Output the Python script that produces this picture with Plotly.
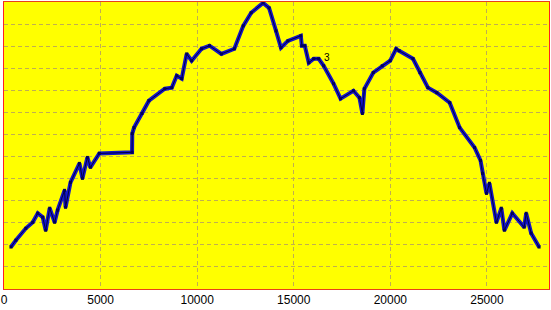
import plotly.graph_objects as go

x_vals = [360, 617, 1131, 1490, 1747, 2004, 2158, 2364, 2621, 2775, 3135, 3186, 3443, 3906, 4060,
          4317, 4471, 4933, 6629, 6640, 6732, 7143, 7503, 8325, 8685, 8942, 9199, 9456, 9713, 10227,
          10638, 11254, 11923, 12385, 12796, 13413, 13721, 14081, 14337, 14697, 15366, 15417, 15571,
          15776, 16032, 16290, 16547, 17061, 17421, 18089, 18398, 18552, 18655, 19117, 19578, 19991,
          20299, 20454, 21172, 21532, 21943, 22405, 23073, 23588, 24358, 24667, 24770, 24975, 25130,
          25489, 25746, 25901, 26312, 26928, 27030, 27288, 27699]
y_vals = [1.90, 2.21, 2.75, 3.02, 3.43, 3.25, 2.66, 3.66, 3.02, 3.57, 4.47, 3.70, 4.83, 5.69, 5.01,
          5.96, 5.51, 6.14, 6.19, 7.04, 7.31, 7.95, 8.53, 9.07, 9.12, 9.66, 9.53, 10.65, 10.34, 10.88,
          11.02, 10.65, 10.88, 11.92, 12.51, 12.96, 12.73, 11.69, 10.93, 11.24, 11.47, 11.02, 11.02,
          10.25, 10.43, 10.43, 10.11, 9.30, 8.62, 8.98, 8.67, 7.95, 9.07, 9.80, 10.11, 10.34,
          10.88, 10.79, 10.43, 9.80, 9.12, 8.89, 8.44, 7.31, 6.41, 5.82, 5.24, 4.33, 4.79,
          3.02, 3.66, 2.66, 3.43, 2.80, 3.43, 2.53, 1.90]
x_ticks = [0, 5000, 10000, 15000, 20000, 25000]
label_text = "3"
label_x = 16700
label_y = 10.47

fig = go.Figure()
fig.add_trace(go.Scatter(x=x_vals, y=y_vals, mode="lines",
                         line=dict(color="#1414C8", width=4), hoverinfo="skip"))
fig.add_trace(go.Scatter(x=x_vals, y=y_vals, mode="lines+markers",
                         line=dict(color="#000040", width=1),
                         marker=dict(color="#00005A", size=3, symbol="square")))
fig.add_annotation(x=label_x, y=label_y, text=label_text, showarrow=False,
                   font=dict(family="Arial", size=10, color="#000000"))

fig.update_layout(
    width=551, height=310,
    margin=dict(l=1, r=1, t=1, b=21),
    paper_bgcolor="#FFFFFF",
    plot_bgcolor="#FFFF00",
    showlegend=False,
    font=dict(family="Arial", size=12, color="#000000"),
)
fig.update_xaxes(range=[0, 28212], tickvals=x_ticks, ticktext=[str(v) for v in x_ticks],
                 showgrid=True, gridcolor="#C0AE50", griddash="4px,3px", gridwidth=1,
                 showline=True, linecolor="#E8401A", linewidth=1, mirror=True,
                 zeroline=False, ticks="", tickfont=dict(size=12),
                 ticklabeloverflow="allow")
fig.update_yaxes(range=[0, 13], dtick=1, showticklabels=False,
                 showgrid=True, gridcolor="#C0AE50", griddash="4px,3px", gridwidth=1,
                 showline=True, linecolor="#FF2020", linewidth=1, mirror=True,
                 zeroline=False, ticks="")

fig.write_html("out.html")
